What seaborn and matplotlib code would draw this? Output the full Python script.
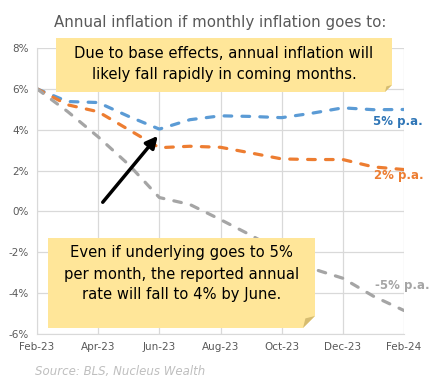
import numpy as np
import pandas as pd
import matplotlib
matplotlib.use('Agg')
import matplotlib.pyplot as plt
import seaborn as sns
from matplotlib.patches import Polygon

months = ['Feb-23', 'Mar-23', 'Apr-23', 'May-23', 'Jun-23', 'Jul-23', 'Aug-23',
          'Sep-23', 'Oct-23', 'Nov-23', 'Dec-23', 'Jan-24', 'Feb-24']
pa_5 = [6.0, 5.38, 5.33, 4.65, 4.03, 4.49, 4.68, 4.65, 4.59, 4.81, 5.07, 4.98, 4.99]
pa_2 = [6.0, 5.22, 4.88, 4.0, 3.12, 3.19, 3.14, 2.86, 2.57, 2.54, 2.54, 2.18, 2.05]
pa_m5 = [6.0, 4.89, 3.65, 2.29, 0.68, 0.34, -0.4, -1.17, -2.0, -2.8, -3.27, -4.15, -4.85]
tick_labels = ['Feb-23', 'Apr-23', 'Jun-23', 'Aug-23', 'Oct-23', 'Dec-23', 'Feb-24']

df = pd.DataFrame({
    'idx': list(range(len(months))) * 3,
    'month': months * 3,
    'value': pa_5 + pa_2 + pa_m5,
    'series': ['5% p.a.'] * 13 + ['2% p.a.'] * 13 + ['-5% p.a.'] * 13,
})

sns.set_style('white')
plt.rcParams['font.family'] = ['DejaVu Sans']

fig = plt.figure(figsize=(4.3, 3.82), dpi=100)
ax = fig.add_axes([37 / 430, 1 - 334 / 382, 367 / 430, 286 / 382])

palette = {'5% p.a.': '#5B9BD5', '2% p.a.': '#ED7D31', '-5% p.a.': '#A5A5A5'}
sns.lineplot(data=df, x='idx', y='value', hue='series', palette=palette,
             linewidth=2.3, ax=ax, legend=False)
for line in ax.get_lines():
    line.set_dashes((2.4, 3.2))
    line.set_dash_capstyle('round')

ax.set_xlim(0, 12)
ax.set_ylim(-6, 8)
ax.set_xticks(range(0, 13, 2))
ax.set_xticklabels(tick_labels)
ax.set_yticks(range(-6, 9, 2))
ax.set_yticklabels([f'{v}%' for v in range(-6, 9, 2)])
ax.grid(True, color='#D9D9D9', linewidth=0.9)
ax.set_axisbelow(True)
for s in ['top', 'right']:
    ax.spines[s].set_visible(False)
for s in ['left', 'bottom']:
    ax.spines[s].set_color('#D9D9D9')
ax.tick_params(axis='both', labelsize=7.5, colors='#595959', length=0, pad=6)
ax.set_xlabel('')
ax.set_ylabel('')

# series labels
ax.text(12.6, 4.4, '5% p.a.', color='#2E75B6', fontsize=8.5, fontweight='bold',
        ha='right', va='center', clip_on=False)
ax.text(12.65, 1.75, '2% p.a.', color='#ED7D31', fontsize=8.5, fontweight='bold',
        ha='right', va='center', clip_on=False)
ax.text(12.85, -3.65, '-5% p.a.', color='#A5A5A5', fontsize=8.5, fontweight='bold',
        ha='right', va='center', clip_on=False)

# arrow
ax.annotate('', xy=(3.95, 3.7), xytext=(2.15, 0.45),
            arrowprops=dict(arrowstyle='-|>,head_length=0.7,head_width=0.35',
                            color='black', lw=2.5, shrinkA=0, shrinkB=0))

fig.text(220 / 430, 1 - 22 / 382, 'Annual inflation if monthly inflation goes to:',
         ha='center', va='center', fontsize=10.8, color='#595959')
fig.text(35 / 430, 1 - 372 / 382, 'Source: BLS, Nucleus Wealth', ha='left',
         va='center', fontsize=8.5, color='#BFBFBF', style='italic')


def note(x0, y0, x1, y1, fold, lines, ys):
    W, H = 430, 382
    pts = [(x0, y0), (x1, y0), (x1, y1 - fold), (x1 - fold, y1), (x0, y1)]
    fig.patches.append(Polygon([(x / W, 1 - y / H) for x, y in pts],
                               closed=True, transform=fig.transFigure,
                               facecolor='#FFE699', edgecolor='none', zorder=5))
    tri = [(x1, y1 - fold), (x1 - fold, y1), (x1 - fold * 0.8, y1 - fold * 0.8)]
    fig.patches.append(Polygon([(x / W, 1 - y / H) for x, y in tri],
                               closed=True, transform=fig.transFigure,
                               facecolor='#D6BC70', edgecolor='none', zorder=6))
    for t, y in zip(lines, ys):
        fig.text((x0 + x1) / 2 / W, 1 - y / H, t, ha='center', va='center',
                 fontsize=10.6, color='black', zorder=7)


note(56, 38, 392, 92, 7,
     ['Due to base effects, annual inflation will',
      'likely fall rapidly in coming months.'], [54, 75])
note(48, 238, 315, 328, 12,
     ['Even if underlying goes to 5%',
      'per month, the reported annual',
      'rate will fall to 4% by June.'], [253, 274, 295])

fig.savefig('out.png', dpi=100)
